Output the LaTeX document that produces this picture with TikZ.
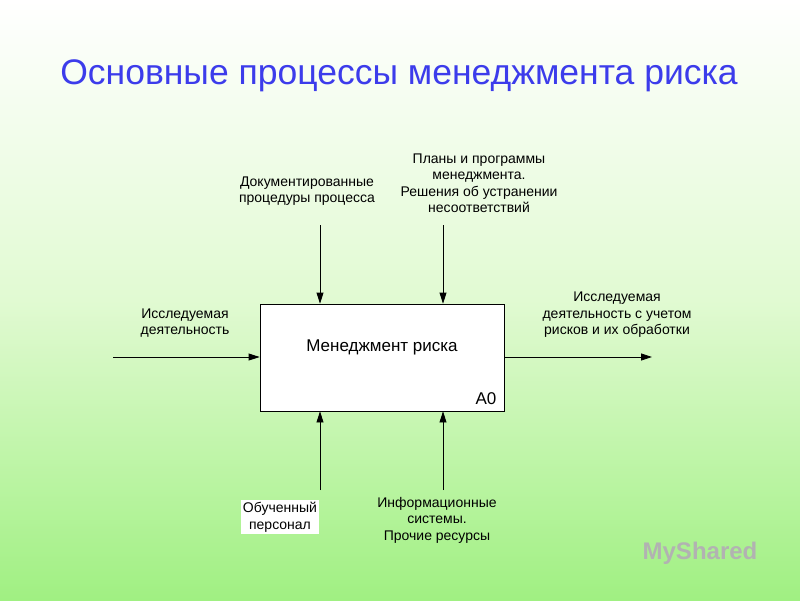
\documentclass[tikz,border=0pt]{standalone}
\usepackage{fontspec}
\setmainfont{Liberation Sans}
\usetikzlibrary{arrows.meta}
\begin{document}
\begin{tikzpicture}[x=1pt,y=-1pt,
  lbl/.style={align=center,font=\fontsize{14}{16.5}\selectfont,inner sep=1pt},
  arr/.style={-{Triangle[length=11pt,width=7pt]},line width=0.8pt}]
\useasboundingbox (0,0) rectangle (800,600);
\shade[top color=white,bottom color={rgb,255:red,160;green,240;blue,130},middle color={rgb,255:red,225;green,250;blue,210}] (0,0) rectangle (800,600);
\node[font=\fontsize{35.5}{40}\selectfont,text={rgb,255:red,60;green,60;blue,235}] (title) at (399,76) {Основные процессы менеджмента риска};
\node[draw,fill=white,line width=0.8pt,minimum width=244pt,minimum height=107pt,inner sep=0pt] (box) at (382,357.5) {};
\node[font=\fontsize{17}{20}\selectfont] (name) at (382,347) {Менеджмент риска};
\node[font=\fontsize{17}{20}\selectfont] (a0) at (486,399) {A0};
\coordinate (inL) at (113,357);
\coordinate (outR) at (652,357);
\coordinate (c1) at (320,225);
\coordinate (c2) at (443,225);
\coordinate (m1) at (320,490);
\coordinate (m2) at (443,490);
\draw[arr] (inL) -- (box.west |- inL);
\draw[arr] (box.east |- outR) -- (outR);
\draw[arr] (c1) -- (c1 |- box.north);
\draw[arr] (c2) -- (c2 |- box.north);
\draw[arr] (m1) -- (m1 |- box.south);
\draw[arr] (m2) -- (m2 |- box.south);
\node[lbl] (t1) at (185,323) {Исследуемая\\деятельность};
\node[lbl] (t2) at (307,191) {Документированные\\процедуры процесса};
\node[lbl] (t3) at (479,183) {Планы и программы\\менеджмента.\\Решения об устранении\\несоответствий};
\node[lbl] (t4) at (617,315) {Исследуемая\\деятельность с учетом\\рисков и их обработки};
\node[lbl,fill=white,inner sep=2pt] (t5) at (280,517) {Обученный\\персонал};
\node[lbl] (t6) at (437,520) {Информационные\\системы.\\Прочие ресурсы};
\node[font=\fontsize{24}{28}\selectfont\bfseries,text=gray!60] (logo) at (700,553) {MyShared};
\end{tikzpicture}
\end{document}
